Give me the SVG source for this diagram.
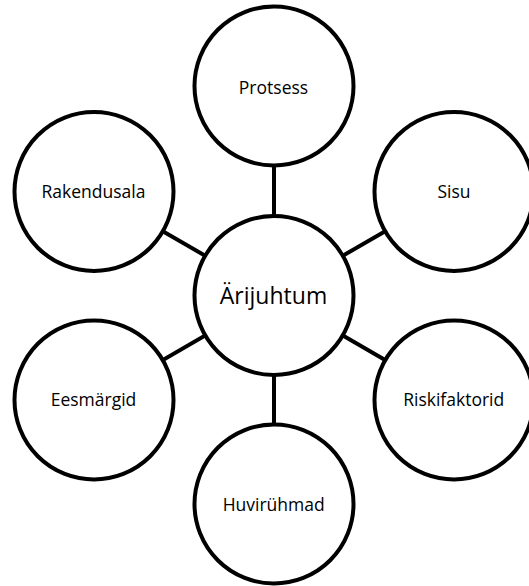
<svg xmlns="http://www.w3.org/2000/svg" width="529" height="586" viewBox="0 0 529 586">
<style>
.c{fill:#fff;stroke:#000;stroke-width:4}
.e{stroke:#000;stroke-width:4;fill:none}
.t{font-family:"Open Sans","Noto Sans",sans-serif;font-size:17.5px;fill:#000;text-anchor:middle}
.tb{font-size:23px}
</style>
<rect width="529" height="586" fill="#fff"/>
<g id="connectors">
<line class="e" x1="274" y1="295.5" x2="274" y2="86"/>
<line class="e" x1="274" y1="295.5" x2="274" y2="504"/>
<line class="e" x1="274" y1="295.5" x2="94" y2="191.5"/>
<line class="e" x1="274" y1="295.5" x2="454" y2="191.5"/>
<line class="e" x1="274" y1="295.5" x2="94" y2="400"/>
<line class="e" x1="274" y1="295.5" x2="454" y2="400"/>
</g>
<g id="protsess"><circle class="c" cx="274" cy="86" r="79.5"/><text class="t" x="273.5" y="94.3">Protsess</text></g>
<g id="rakendusala"><circle class="c" cx="94" cy="191.5" r="79.5"/><text class="t" x="93.5" y="198.3">Rakendusala</text></g>
<g id="sisu"><circle class="c" cx="454" cy="191.5" r="79.5"/><text class="t" x="454" y="198.3">Sisu</text></g>
<g id="arijuhtum"><circle class="c" cx="274" cy="295.5" r="79.5"/><text class="t tb" x="273.5" y="303.5">Ärijuhtum</text></g>
<g id="eesmargid"><circle class="c" cx="94" cy="400" r="79.5"/><text class="t" x="93.5" y="406">Eesmärgid</text></g>
<g id="riskifaktorid"><circle class="c" cx="454" cy="400" r="79.5"/><text class="t" x="453.7" y="406">Riskifaktorid</text></g>
<g id="huviruhmad"><circle class="c" cx="274" cy="504" r="79.5"/><text class="t" x="273.7" y="511">Huvirühmad</text></g>
</svg>
